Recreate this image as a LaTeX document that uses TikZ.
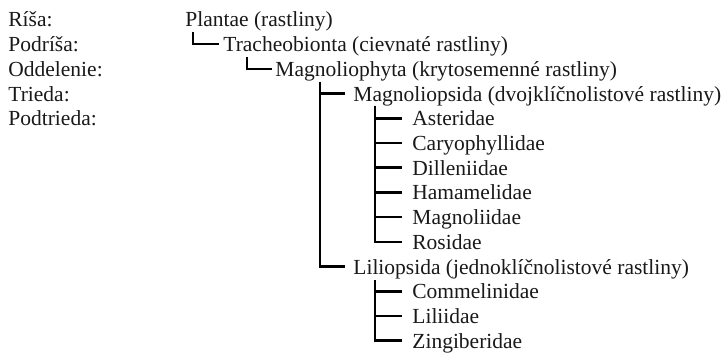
\documentclass[tikz,border=0pt]{standalone}
\usepackage{fontspec}
\setmainfont{Liberation Serif}
\usepackage{tikz}

\begin{document}
\begin{tikzpicture}[
  x=0.5pt, y=-0.5pt,
  taxon/.style = {anchor=base west, inner sep=0pt, text height=0.75em, text depth=0pt,
                  text=black!90, font=\fontsize{10.75}{13}\selectfont},
  link/.style  = {draw, line width=1.3pt},
]
  \useasboundingbox (0,0) rectangle (723,353);

  % ranks
  \node[taxon] (rrisa)  at (8,27)    {Ríša:};
  \node[taxon] (rpodr)  at (8,51.7)  {Podríša:};
  \node[taxon] (roddel) at (8,76.4)  {Oddelenie:};
  \node[taxon] (rtried) at (8,101.1) {Trieda:};
  \node[taxon] (rpodt)  at (8,125.8) {Podtrieda:};

  % taxa
  \node[taxon] (plant)  at (185,27)    {Plantae (rastliny)};
  \node[taxon] (trach)  at (223,51.7)  {Tracheobionta (cievnaté rastliny)};
  \node[taxon] (magph)  at (275,76.4)  {Magnoliophyta (krytosemenné rastliny)};
  \node[taxon] (magps)  at (353,101.1) {Magnoliopsida (dvojklíčnolistové rastliny)};
  \node[taxon] (aster)  at (412,125.8) {Asteridae};
  \node[taxon] (caryo)  at (412,150.5) {Caryophyllidae};
  \node[taxon] (dille)  at (412,175.2) {Dilleniidae};
  \node[taxon] (hamam)  at (412,199.9) {Hamamelidae};
  \node[taxon] (magnl)  at (412,224.6) {Magnoliidae};
  \node[taxon] (rosid)  at (412,249.3) {Rosidae};
  \node[taxon] (lilps)  at (353,274)   {Liliopsida (jednoklíčnolistové rastliny)};
  \node[taxon] (comme)  at (412,298.7) {Commelinidae};
  \node[taxon] (lilid)  at (412,323.4) {Liliidae};
  \node[taxon] (zingi)  at (412,348.1) {Zingiberidae};

  % stems
  \coordinate (splant) at (193,32);
  \coordinate (strach) at (247,57);
  \coordinate (smagph) at (320,82);
  \coordinate (smagps) at (375,106);
  \coordinate (slilps) at (375,280);

  \draw[link, shorten >=2pt] (splant) |- (trach.west);
  \draw[link, shorten >=1.5pt] (strach) |- (magph.west);
  \draw[link, shorten >=4pt] (smagph) |- (magps.west);
  \draw[link, shorten >=4pt] (smagph) |- (lilps.west);

  \draw[link, shorten >=5pt] (smagps) |- (aster.west);
  \draw[link, shorten >=5pt] (smagps) |- (caryo.west);
  \draw[link, shorten >=5pt] (smagps) |- (dille.west);
  \draw[link, shorten >=5pt] (smagps) |- (hamam.west);
  \draw[link, shorten >=5pt] (smagps) |- (magnl.west);
  \draw[link, shorten >=5pt] (smagps) |- (rosid.west);

  \draw[link, shorten >=5pt] (slilps) |- (comme.west);
  \draw[link, shorten >=5pt] (slilps) |- (lilid.west);
  \draw[link, shorten >=5pt] (slilps) |- (zingi.west);
\end{tikzpicture}
\end{document}
